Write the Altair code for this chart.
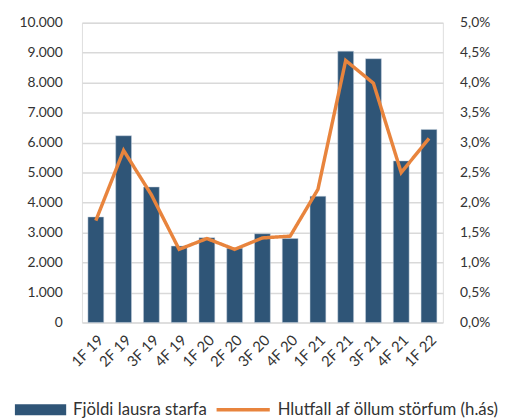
import altair as alt
import pandas as pd

quarters = ["1F 19", "2F 19", "3F 19", "4F 19", "1F 20", "2F 20", "3F 20",
            "4F 20", "1F 21", "2F 21", "3F 21", "4F 21", "1F 22"]
vacancies = [3520, 6230, 4520, 2550, 2830, 2480, 2960, 2800, 4210, 9050, 8800, 5390, 6440]
ratio = [0.0170, 0.0287, 0.0213, 0.0122, 0.0140, 0.0122, 0.0141, 0.0144,
         0.0222, 0.0437, 0.0399, 0.0250, 0.0307]

bar_name = "Fjöldi lausra starfa"
line_name = "Hlutfall af öllum störfum (h.ás)"

df = pd.DataFrame({"q": quarters, "v": vacancies, "r": ratio})

FONT = "Lato"
BLUE = "#2F5577"
ORANGE = "#E8843D"
TXT = "#333333"

x = alt.X("q:N", sort=quarters, title=None,
          scale=alt.Scale(paddingInner=0.43, paddingOuter=0.215),
          axis=alt.Axis(labelAngle=-45, labelFontSize=15, labelColor=TXT,
                        ticks=False, domain=False, labelPadding=10, labelFont=FONT))

bars = alt.Chart(df).mark_bar(color=BLUE, stroke="#c8d3de", strokeWidth=0.5).encode(
    x=x,
    y=alt.Y("v:Q", title=None,
            scale=alt.Scale(domain=[0, 10000]),
            axis=alt.Axis(values=list(range(0, 10001, 1000)),
                          labelExpr="replace(format(datum.value, ','), ',', '.')",
                          grid=True, gridColor="#d9d9d9", gridWidth=1.5,
                          ticks=False, domain=False, labelFontSize=14,
                          labelColor=TXT, labelPadding=20, labelFont=FONT)),
    color=alt.Color("n:N", scale=alt.Scale(domain=[bar_name], range=[BLUE]),
                    legend=alt.Legend(title=None, orient="none", legendX=-50.5, legendY=384,
                                      symbolType="M-4,-0.85L4,-0.85L4,0.85L-4,0.85Z",
                                      symbolSize=169, symbolStrokeWidth=0,
                                      labelFontSize=17, labelFont=FONT, labelLimit=0,
                                      labelColor=TXT, labelOffset=24.5)),
).transform_calculate(n=f"'{bar_name}'")

line = alt.Chart(df).mark_line(color=ORANGE, strokeWidth=3.5).encode(
    x=x,
    y=alt.Y("r:Q", title=None,
            scale=alt.Scale(domain=[0, 0.05]),
            axis=alt.Axis(orient="right", values=[i * 0.005 for i in range(11)],
                          labelExpr="replace(format(datum.value, '.1%'), '.', ',')",
                          grid=False, ticks=False, domain=False, labelFontSize=14,
                          labelColor=TXT, labelPadding=17, labelFont=FONT)),
    strokeDash=alt.StrokeDash("m:N", scale=alt.Scale(domain=[line_name], range=[[1, 0]]),
                              legend=alt.Legend(title=None, orient="none", legendX=155,
                                                legendY=384,
                                                symbolType="M-4.15,0L4.15,0", symbolSize=169,
                                                symbolStrokeColor=ORANGE,
                                                symbolFillColor="transparent",
                                                symbolStrokeWidth=3.5,
                                                labelFontSize=17, labelFont=FONT,
                                                labelLimit=0, labelOffset=26.5,
                                                labelColor=TXT)),
).transform_calculate(m=f"'{line_name}'")

chart = alt.layer(bars, line).resolve_scale(
    y="independent", color="independent", strokeDash="independent"
).properties(width=366, height=304, padding={"left": 11, "top": 5, "right": 5, "bottom": 0}
).configure_view(stroke=None).configure(font=FONT)

chart.save("out.html", embed_options={"renderer": "svg", "actions": False})
